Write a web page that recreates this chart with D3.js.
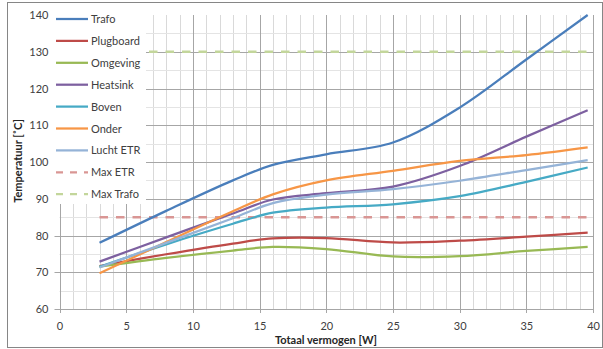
<!DOCTYPE html>
<html>
<head>
<meta charset="utf-8">
<script src="https://cdn.jsdelivr.net/npm/d3@7"></script>
<style>
  body { margin: 0; background: #fff; }
  svg { display: block; font-family: Lato, "Liberation Sans", sans-serif; }
</style>
</head>
<body>
<svg id="chart" width="603" height="349"></svg>
<script>
// measured points (Totaal vermogen [W])
var xVals = [3, 8, 13, 16, 20, 25, 30, 35, 39.6];
var trafo     = [78, 86.7, 95, 99.2, 102.1, 105.3, 114.8, 127.9, 140];
var plugboard = [71.7, 74.9, 77.8, 79.2, 79.3, 78.1, 78.6, 79.7, 80.8];
var omgeving  = [71.5, 73.9, 75.9, 76.9, 76.3, 74.3, 74.4, 75.8, 76.9];
var heatsink  = [72.9, 79.5, 86, 89.8, 91.5, 93.3, 98.9, 106.9, 114.1];
var boven     = [71.5, 77.6, 83.2, 86.2, 87.6, 88.5, 90.7, 94.6, 98.5];
var onder     = [69.7, 78.2, 86.6, 91.2, 95, 97.6, 100.3, 101.9, 104];
var luchtETR  = [71.3, 78, 84.7, 88.8, 91.1, 92.6, 94.9, 97.8, 100.5];
var limitX = [3, 39.6];
var maxETR = [85, 85];
var maxTrafo = [130, 130];

var seriesNames = ["Trafo", "Plugboard", "Omgeving", "Heatsink", "Boven", "Onder", "Lucht ETR", "Max ETR", "Max Trafo"];
var seriesColors = ["#4a7ebb", "#be4b48", "#98b954", "#7d60a0", "#46aac5", "#f79646", "#95b3d7", "#d99694", "#c3d69b"];

var xTicks = d3.range(0, 41, 5);
var yTicks = d3.range(60, 141, 10);

var svg = d3.select("#chart");

// outer chart border
svg.append("rect")
  .attr("x", 7.5).attr("y", 2.5)
  .attr("width", 595).attr("height", 345)
  .attr("fill", "#fff").attr("stroke", "#868686").attr("stroke-width", 1);

var x = d3.scaleLinear().domain([0, 40]).range([59.5, 593]);
var y = d3.scaleLinear().domain([60, 140]).range([309, 15]);

// minor gridlines
var grid = svg.append("g");
grid.selectAll(".vminor")
  .data(d3.range(0, 41, 1).filter(function(d) { return d % 5 != 0; }))
  .join("line")
  .attr("x1", function(d) { return Math.round(x(d)) + 0.5; })
  .attr("x2", function(d) { return Math.round(x(d)) + 0.5; })
  .attr("y1", y(140)).attr("y2", y(60))
  .attr("stroke", "#d9d9d9");
grid.selectAll(".hminor")
  .data(d3.range(65, 140, 10))
  .join("line")
  .attr("x1", x(0)).attr("x2", x(40))
  .attr("y1", function(d) { return Math.round(y(d)) + 0.5; })
  .attr("y2", function(d) { return Math.round(y(d)) + 0.5; })
  .attr("stroke", "#e4e4e4");

// major gridlines
grid.selectAll(".vmajor")
  .data(xTicks)
  .join("line")
  .attr("x1", function(d) { return Math.round(x(d)) + 0.5; })
  .attr("x2", function(d) { return Math.round(x(d)) + 0.5; })
  .attr("y1", y(140)).attr("y2", y(60) + 4)
  .attr("stroke", "#a6a6a6");
grid.selectAll(".hmajor")
  .data(yTicks.filter(function(d) { return d < 140; }))
  .join("line")
  .attr("x1", x(0) - 5).attr("x2", x(40))
  .attr("y1", function(d) { return Math.round(y(d)) + 0.5; })
  .attr("y2", function(d) { return Math.round(y(d)) + 0.5; })
  .attr("stroke", "#a6a6a6");

// axes (labels only, lines come from the grid)
var xAxis = svg.append("g")
  .attr("transform", "translate(0," + (y(60) + 7) + ")")
  .call(d3.axisBottom(x).tickValues(xTicks).tickSize(0).tickPadding(6));
var yAxis = svg.append("g")
  .attr("transform", "translate(" + (x(0) - 11) + ",0)")
  .call(d3.axisLeft(y).tickValues(yTicks).tickSize(0).tickPadding(0));
[xAxis, yAxis].forEach(function(a) {
  a.select(".domain").remove();
  a.selectAll("text")
    .attr("fill", "#404040")
    .style("font-size", "11px")
    .style("font-family", "Lato, 'Liberation Sans', sans-serif");
});

// axis titles
svg.append("text")
  .attr("x", 326).attr("y", 344)
  .attr("text-anchor", "middle")
  .attr("font-weight", "bold").attr("font-size", "11px")
  .attr("fill", "#262626")
  .text("Totaal vermogen [W]");
svg.append("text")
  .attr("transform", "translate(22,161) rotate(-90)")
  .attr("text-anchor", "middle")
  .attr("font-weight", "bold").attr("font-size", "11px")
  .attr("fill", "#262626")
  .text("Temperatuur [˚C]");

// data lines
var line = d3.line()
  .x(function(d) { return x(d[0]); })
  .y(function(d) { return y(d[1]); })
  .curve(d3.curveCatmullRom.alpha(0.5));

var allSeries = [trafo, plugboard, omgeving, heatsink, boven, onder, luchtETR];
var lines = svg.append("g");
lines.selectAll(".limit")
  .data([maxETR, maxTrafo])
  .join("path")
  .attr("d", function(s) { return line(limitX.map(function(v, i) { return [v, s[i]]; })); })
  .attr("fill", "none")
  .attr("stroke", function(d, i) { return seriesColors[7 + i]; })
  .attr("stroke-width", 2.5)
  .attr("stroke-dasharray", "8.5,8");
lines.selectAll(".series")
  .data(allSeries)
  .join("path")
  .attr("d", function(s) { return line(xVals.map(function(v, i) { return [v, s[i]]; })); })
  .attr("fill", "none")
  .attr("stroke", function(d, i) { return seriesColors[i]; })
  .attr("stroke-width", 2.25)
  .attr("stroke-linejoin", "round");

// legend
var legend = svg.append("g");
legend.append("rect")
  .attr("x", 52).attr("y", 8)
  .attr("width", 94).attr("height", 196)
  .attr("fill", "#fff");
var items = legend.selectAll(".item")
  .data(seriesNames)
  .join("g")
  .attr("transform", function(d, i) { return "translate(0," + (19 + i * 21.9) + ")"; });
items.append("line")
  .attr("x1", 56).attr("x2", 88)
  .attr("stroke", function(d, i) { return seriesColors[i]; })
  .attr("stroke-width", 2.25)
  .attr("stroke-dasharray", function(d, i) { return i >= 7 ? "7,7" : null; });
items.append("text")
  .attr("x", 91).attr("y", 4)
  .attr("font-size", "11px")
  .attr("fill", "#404040")
  .text(function(d) { return d; });
</script>
</body>
</html>
